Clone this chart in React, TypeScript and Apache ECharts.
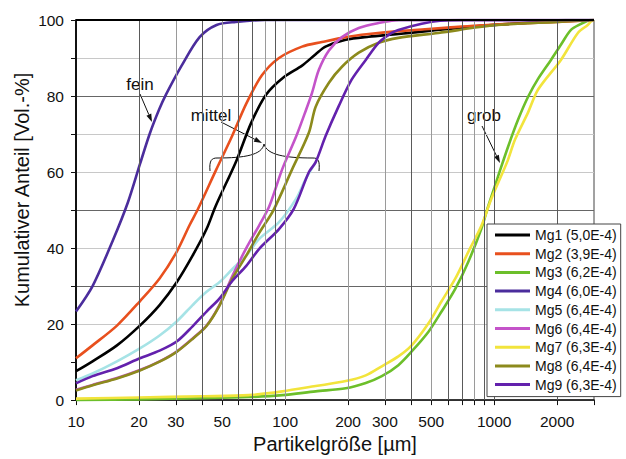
import React, { useEffect, useRef } from "react";
import * as echarts from "echarts";

const FONT = "'Liberation Sans', Arial, sans-serif";

const SERIES_NAMES = [
  "Mg1 (5,0E-4)",
  "Mg2 (3,9E-4)",
  "Mg3 (6,2E-4)",
  "Mg4 (6,0E-4)",
  "Mg5 (6,4E-4)",
  "Mg6 (6,4E-4)",
  "Mg7 (6,3E-4)",
  "Mg8 (6,4E-4)",
  "Mg9 (6,3E-4)",
];
const SERIES_COLORS = [
  "#000000",
  "#e8501e",
  "#6cbf2a",
  "#4b2d9c",
  "#a6e3e6",
  "#c453c9",
  "#f2e43c",
  "#8c8a1c",
  "#6321ad",
];

// [particle size µm, cumulative %]
const mg1 = [[10,7.6],[12,10.2],[15.7,14.4],[20.2,19.6],[25.1,25],[30.3,31],[36.1,38],[42.1,45],[46.5,51],[58.5,63],[68.9,73],[81.2,80.4],[98.8,85],[120.5,88],[140,91],[156,93],[195,94.8],[251,95.6],[348,96.3],[500,97.2],[800,98.3],[1200,99],[1600,99.4],[2200,100],[3000,100]];
const mg2 = [[10,11],[12,14.4],[15.7,19.6],[20.2,26],[25.1,32],[30.3,39],[34.9,46],[38.1,50],[46.9,60.7],[55.3,69],[65.2,78],[77.6,85.5],[93.5,90],[120.5,93],[150,94.2],[195,95.5],[251,96.3],[338,97],[600,98],[1000,98.8],[2000,99.5],[3000,100]];
const mg3 = [[10,0],[20,0.2],[40,0.5],[67,0.8],[97,1.3],[140,2.3],[195,3.1],[243,4.5],[290,6.3],[348,9.2],[403,12.8],[485,18],[560,23.3],[652,29.3],[752,36.4],[867,45],[936,51],[1045,59],[1167,66.8],[1301,73.8],[1452,79.8],[1620,84.5],[1868,89.5],[2084,93.5],[2328,97.4],[2600,99],[2750,99.6],[2900,100],[3000,100]];
const mg4 = [[10,23.3],[12,30],[15,42],[17.7,52],[20.2,62],[22.5,70],[25,76.5],[27,80.5],[32,88],[39,95.5],[47,98.7],[58,99.5],[80,100],[3000,100]];
const mg5 = [[10,5.2],[12,7],[15.7,10.2],[20.2,13.6],[25.1,17],[30.3,20.7],[36.1,25],[42.1,28.5],[48.5,31],[56,34.5],[65.2,38],[75.2,42.4],[93.5,46.8],[113,53],[125,58],[140,62.6]];
const mg6 = [[10,2.7],[12,4],[15.7,5.8],[20.2,7.9],[25.1,10.2],[30.3,12.8],[36.1,16.2],[42.1,19.6],[48.5,25],[56,32.7],[65.2,40],[75.2,46],[84,51],[96.8,60.7],[113,69.4],[126,76.4],[134.6,80.9],[145,86.9],[162,92],[187,95.5],[225,97.9],[280,99.2],[350,100],[3000,100]];
const mg7 = [[10,0.4],[20,0.7],[40,1],[67,1.3],[97,2.3],[140,3.7],[195,5],[243,6.5],[290,8.9],[348,11.5],[403,14.4],[485,20.2],[560,26],[652,32],[752,39],[867,45.8],[968,52.9],[1080,59],[1160,63],[1259,68.6],[1452,75.7],[1621,81.7],[2084,89.5],[2512,96.6],[2800,98.7],[2900,99.6],[3000,100]];
const mg8 = [[10,2.5],[12,3.9],[15.7,5.7],[20.2,7.8],[25.1,10.1],[30.3,12.7],[36.1,16.1],[42.1,19.5],[48.5,24.8],[56,32],[65.2,38],[75.2,44],[88,50],[108,60.7],[130,70.4],[140,77.2],[162,83.5],[187,87.7],[225,91.4],[280,94],[348,95.3],[540,96.6],[1000,98.6],[2000,99.5],[3000,100]];
const mg9 = [[10,4.4],[12,6.3],[15.7,8.4],[20.2,11],[25.1,13],[30.3,15.4],[36.1,19.4],[42.1,23.3],[48.5,26.7],[56,31.4],[65.2,35.3],[75.2,39.8],[93.5,45],[110,50.3],[130,60],[140,62.6],[156,69.4],[180,77.2],[208,84.3],[243,89.5],[280,94],[323,96.6],[348,97.4],[450,99],[550,99.8],[700,100],[3000,100]];
const SERIES_DATA = [mg1, mg2, mg3, mg4, mg5, mg6, mg7, mg8, mg9];

const X_MIN = 10;
const X_MAX = 3000;
const X_LABELS = [10, 20, 30, 50, 100, 200, 300, 500, 1000, 2000];
const X_TICKS = [10,20,30,40,50,60,70,80,90,100,200,300,400,500,600,700,800,900,1000,2000,3000];
const X_GRID_DARK = [20,40,60,70,90,400,600,700,900,1000,2000];
const X_GRID_LIGHT = [30,50,80,100,200,300,500,800];

const Y_LABELS = [0, 20, 40, 60, 80, 100];
// colors of horizontal grid lines at 0,10,...,100
const Y_GRID_COLORS = ["rgba(0,0,0,0)","rgba(0,0,0,0)","#c8c8c8","#666666","#c8c8c8","#666666","#c8c8c8","#c8c8c8","#666666","#c8c8c8","rgba(0,0,0,0)"];

function arrow(x1: number, y1: number, x2: number, y2: number) {
  const dx = x2 - x1, dy = y2 - y1;
  const len = Math.sqrt(dx * dx + dy * dy);
  const ux = dx / len, uy = dy / len;
  const nx = -uy, ny = ux;
  const hl = 8, hw = 2.6;
  const bx = x2 - ux * hl, by = y2 - uy * hl;
  return [
    { type: "line", silent: true, shape: { x1, y1, x2: bx, y2: by }, style: { stroke: "#111", lineWidth: 1 } },
    { type: "polygon", silent: true, shape: { points: [[x2, y2], [bx + nx * hw, by + ny * hw], [bx - nx * hw, by - ny * hw]] }, style: { fill: "#111" } },
  ];
}

export default function App() {
  const ref = useRef<HTMLDivElement>(null);
  useEffect(() => {
    if (!ref.current) return;
    document.body.style.margin = "0";
    const chart = echarts.init(ref.current, null, { renderer: "svg" });
    const series: any[] = SERIES_NAMES.map((name, i) => ({
      name,
      type: "line",
      data: SERIES_DATA[i],
      showSymbol: false,
      smooth: 0.3,
      lineStyle: { color: SERIES_COLORS[i], width: 2.6 },
      itemStyle: { color: SERIES_COLORS[i] },
      z: 3,
    }));
    const vLines = [
      ...X_GRID_DARK.map((v) => ({ xAxis: v, lineStyle: { color: "#5a5a5a", width: 1, type: "solid" } })),
      ...X_GRID_LIGHT.map((v) => ({ xAxis: v, lineStyle: { color: "#9a9a9a", width: 1, type: "solid" } })),
    ];
    series.unshift({
      name: "grid",
      type: "line",
      data: [],
      silent: true,
      z: 1,
      markLine: {
        silent: true,
        symbol: "none",
        animation: false,
        label: { show: false },
        data: vLines,
      },
    });
    series.push({
      name: "top",
      type: "line",
      data: [],
      silent: true,
      z: 2,
      markLine: {
        silent: true,
        symbol: "none",
        animation: false,
        label: { show: false },
        data: [{ yAxis: 100, lineStyle: { color: "#000", width: 2, type: "solid" } }],
      },
    });

    const graphics: any[] = [
      { type: "text", x: 22, y: 190, rotation: Math.PI / 2, style: { text: "Kumulativer Anteil [Vol.-%]", fontSize: 20, fontFamily: FONT, fill: "#111", align: "center", verticalAlign: "middle" } },
      { type: "text", x: 140, y: 84, style: { text: "fein", fontSize: 17, fontFamily: FONT, fill: "#111", align: "center", verticalAlign: "middle" } },
      { type: "text", x: 211, y: 115, style: { text: "mittel", fontSize: 17, fontFamily: FONT, fill: "#111", align: "center", verticalAlign: "middle" } },
      { type: "text", x: 484, y: 115, style: { text: "grob", fontSize: 17, fontFamily: FONT, fill: "#111", align: "center", verticalAlign: "middle" } },
      ...arrow(140, 94, 152, 122),
      ...arrow(221, 122, 262, 143),
      ...arrow(482, 126, 500, 163),
      { type: "bezierCurve", silent: true, shape: { x1: 210, y1: 171, x2: 217, y2: 158, cpx1: 209, cpy1: 160, cpx2: 212, cpy2: 158 }, style: { stroke: "#111", lineWidth: 1, fill: null } },
      { type: "bezierCurve", silent: true, shape: { x1: 217, y1: 158, x2: 264, y2: 144, cpx1: 245, cpy1: 158, cpx2: 262, cpy2: 155 }, style: { stroke: "#111", lineWidth: 1, fill: null } },
      { type: "bezierCurve", silent: true, shape: { x1: 264, y1: 144, x2: 313, y2: 158, cpx1: 267, cpy1: 155, cpx2: 285, cpy2: 158 }, style: { stroke: "#111", lineWidth: 1, fill: null } },
      { type: "bezierCurve", silent: true, shape: { x1: 313, y1: 158, x2: 319, y2: 171, cpx1: 318, cpy1: 158, cpx2: 320, cpy2: 160 }, style: { stroke: "#111", lineWidth: 1, fill: null } },
    ];

    chart.setOption({
      animation: false,
      backgroundColor: "#ffffff",
      textStyle: { fontFamily: FONT },
      grid: { left: 76, right: 32, top: 20, bottom: 57, show: true, borderColor: "#444", borderWidth: 1, backgroundColor: "transparent" },
      legend: {
        orient: "vertical",
        left: 487,
        top: 224,
        padding: [3, 4, 4, 8],
        itemWidth: 35,
        itemHeight: 3,
        itemGap: 2.7,
        icon: "rect",
        data: SERIES_NAMES,
        borderColor: "#444",
        borderWidth: 1,
        borderRadius: 0,
        backgroundColor: "#ffffff",
        textStyle: { fontSize: 14, lineHeight: 16, fontFamily: FONT, color: "#111" },
        z: 10,
      },
      xAxis: {
        type: "log",
        logBase: 10,
        min: X_MIN,
        max: X_MAX,
        name: "Partikelgröße [µm]",
        nameLocation: "middle",
        nameGap: 33,
        nameTextStyle: { fontSize: 20, fontFamily: FONT, color: "#111" },
        axisLine: { show: true, onZero: false, lineStyle: { color: "#111", width: 1.5 } },
        axisTick: { show: true, length: 5, customValues: X_TICKS, lineStyle: { color: "#111" } },
        axisLabel: { show: true, customValues: X_LABELS, fontSize: 15.5, fontFamily: FONT, color: "#111", margin: 13, formatter: (v: number) => String(v) },
        splitLine: { show: false },
        minorTick: { show: false },
      },
      yAxis: {
        type: "value",
        min: 0,
        max: 100,
        interval: 10,
        axisLine: { show: true, lineStyle: { color: "#111", width: 2 } },
        axisTick: { show: true, length: 5, lineStyle: { color: "#111" } },
        axisLabel: {
          fontSize: 15.5,
          fontFamily: FONT,
          color: "#111",
          margin: 12,
          formatter: (v: number) => (Y_LABELS.indexOf(v) >= 0 ? String(v) : ""),
        },
        splitLine: { show: true, lineStyle: { color: Y_GRID_COLORS, width: 1 } },
      },
      series,
      graphic: graphics,
    });
    return () => chart.dispose();
  }, []);
  return <div ref={ref} style={{ width: 626, height: 459 }} />;
}
